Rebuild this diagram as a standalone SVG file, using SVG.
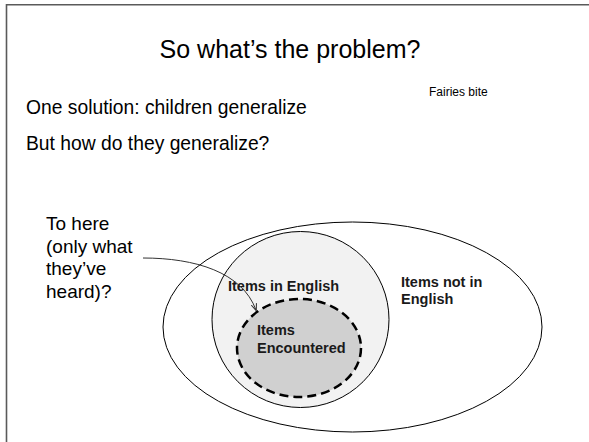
<svg xmlns="http://www.w3.org/2000/svg" width="589" height="442" viewBox="0 0 589 442">
<style>
.t{font-family:"Liberation Sans",Arial,sans-serif;fill:#000}
.b{font-family:"Liberation Sans",Arial,sans-serif;font-weight:bold;font-size:14.5px;fill:#1a1a1a}
.line{fill:none;stroke:#333;stroke-width:1}
</style>
<defs>
<marker id="ah" viewBox="0 0 10 10" refX="9" refY="5" markerWidth="7" markerHeight="7" orient="auto" markerUnits="userSpaceOnUse">
<path d="M0,1 L10,5 L0,9" fill="none" stroke="#333" stroke-width="1.5"/>
</marker>
</defs>
<rect width="589" height="442" fill="#fff"/>
<g id="border">
<path d="M6.5,442 V4.8 H589" fill="none" stroke="#5a5a5a" stroke-width="1.6"/>
</g>
<g id="title"><text class="t" x="290" y="58" font-size="25" text-anchor="middle">So what’s the problem?</text></g>
<g id="bullets">
<text class="t" x="26" y="114" font-size="19.3">One solution: children generalize</text>
<text class="t" x="26" y="150" font-size="19.3">But how do they generalize?</text>
<text class="t" x="429" y="96" font-size="12">Fairies bite</text>
</g>
<g id="to-here">
<text class="t" font-size="19"><tspan x="46" y="230">To here</tspan><tspan x="46" y="252.5">(only what</tspan><tspan x="46" y="275">they’ve</tspan><tspan x="46" y="297.5">heard)?</tspan></text>
</g>
<g id="not-english">
<ellipse cx="352.5" cy="327" rx="189.5" ry="105" fill="#fff" stroke="#000" stroke-width="1"/>
<text class="b"><tspan x="401" y="287">Items not in</tspan><tspan x="401" y="304">English</tspan></text>
</g>
<g id="in-english">
<ellipse cx="300.5" cy="319.5" rx="88.5" ry="88" fill="#f2f2f2" stroke="#000" stroke-width="1"/>
<text class="b" x="228" y="291">Items in English</text>
</g>
<g id="encountered">
<ellipse cx="299" cy="348" rx="62" ry="49" fill="#d0d0d0" stroke="#000" stroke-width="2.5" stroke-dasharray="9,5"/>
<text class="b"><tspan x="257" y="335">Items</tspan><tspan x="257" y="353">Encountered</tspan></text>
</g>
<g id="connectors">
<path class="line" d="M143,258 C195,258 242,272 256,310" marker-end="url(#ah)"/>
</g>
</svg>
